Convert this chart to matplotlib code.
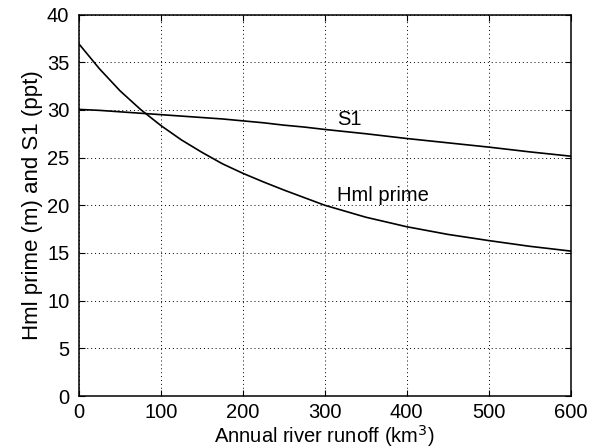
import matplotlib

matplotlib.use("Agg")
import matplotlib.pyplot as plt
import numpy as np

# values
runoff = [0, 25, 50, 75, 100, 125, 150, 175, 200, 225, 250, 275, 300, 350, 400, 450, 500, 550, 600]
hml_prime = [36.9, 34.3, 32.0, 30.05, 28.35, 26.85, 25.55, 24.35, 23.35, 22.45, 21.6, 20.8, 20.0,
             18.75, 17.75, 16.95, 16.3, 15.7, 15.2]
s1 = [30.05, 29.95, 29.8, 29.65, 29.5, 29.35, 29.2, 29.05, 28.85, 28.65, 28.4, 28.2, 27.95,
      27.5, 27.0, 26.55, 26.1, 25.6, 25.15]

plt.rcParams["font.family"] = ["Liberation Sans", "DejaVu Sans"]

fig = plt.figure(figsize=(5.99, 4.48), dpi=100)
ax = fig.add_axes([0.132, 0.116, 0.8205, 0.8516])

ax.plot(runoff, hml_prime, color="black", lw=1.2)
ax.plot(runoff, s1, color="black", lw=1.2)
ax.text(315, 28.4, "S1", fontsize=14.5)
ax.text(315, 20.4, "Hml prime", fontsize=14.5)

ax.set_xlim(0, 600)
ax.set_ylim(0, 40)
ax.set_xticks(np.arange(0, 601, 100))
ax.set_yticks(np.arange(0, 41, 5))
ax.tick_params(direction="in", labelsize=14.5, length=4, top=True, right=True)
ax.tick_params(axis="y", pad=7)
ax.tick_params(axis="x", pad=5)
ax.grid(True, color="black", ls=(0, (1, 3)), lw=0.7)
for s in ax.spines.values():
    s.set_linewidth(1.1)
ax.set_xlabel("Annual river runoff (km$^3$)", fontsize=14.5, labelpad=1)
ax.set_ylabel("Hml prime (m) and S1 (ppt)", fontsize=16, labelpad=3)

fig.savefig("out.png", dpi=100)
